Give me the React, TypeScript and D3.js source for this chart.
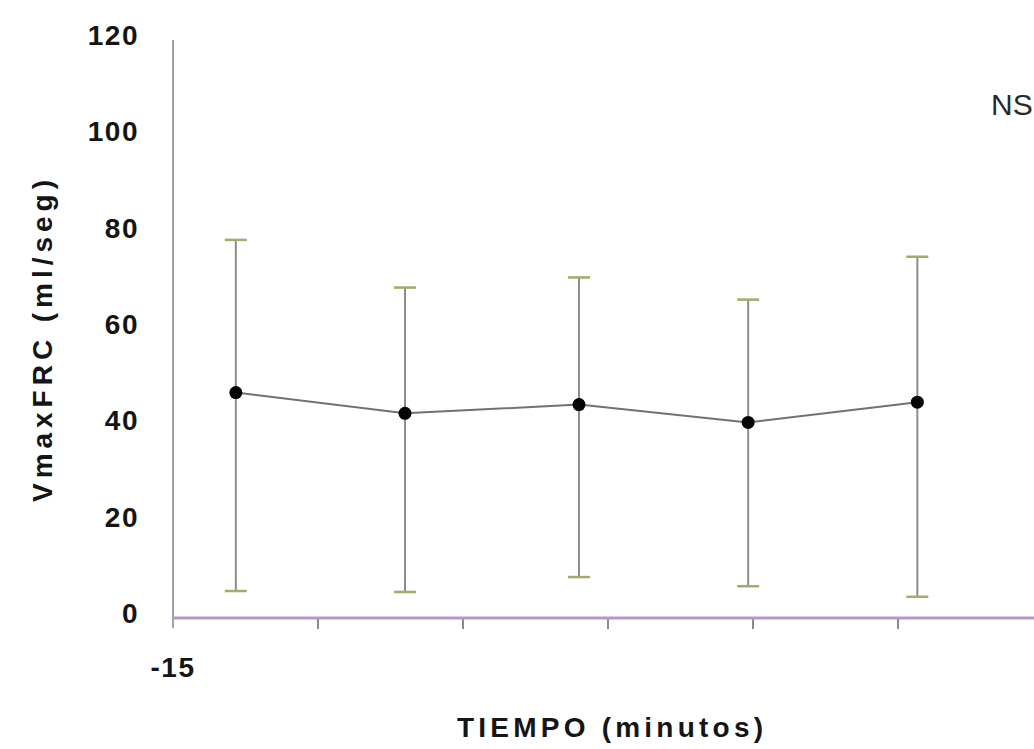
import * as d3 from 'd3';
import React, { useRef, useEffect } from 'react';

// --------------------------------------------------------
// data
// --------------------------------------------------------
const times = [-8.5, 9, 27, 44.5, 62];          // minutes
const means = [46.8, 42.5, 44.3, 40.6, 44.8];    // VmaxFRC (ml/seg)
const upper = [78.5, 68.6, 70.7, 66.1, 75.0];
const lower = [5.6, 5.4, 8.5, 6.6, 4.4];

const yTicks = [0, 20, 40, 60, 80, 100, 120];
const xTicks = [-15, 0, 15, 30, 45, 60];
const xTickLabels = ['-15'];

const W = 1034;
const H = 749;
const FONT = 'Arial, "Liberation Sans", sans-serif';

function App() {
  const svgRef = useRef<SVGSVGElement>(null);

  useEffect(() => {
    const svg = d3.select(svgRef.current);
    svg.selectAll('*').remove();

    // scales
    const x = d3.scaleLinear([-15, 75], [173, 1043]);
    const y = d3.scaleLinear([0, 120], [618, 40]);

    // y axis line
    svg.append('line')
      .attr('x1', x(-15)).attr('x2', x(-15))
      .attr('y1', y(120)).attr('y2', y(0) + 10)
      .attr('stroke', '#a0a0a8').attr('stroke-width', 2);

    // y tick labels
    svg.append('g')
      .selectAll('text')
      .data(yTicks)
      .join('text')
      .attr('x', 139)
      .attr('y', d => y(d) - 5)
      .attr('dy', '0.36em')
      .attr('text-anchor', 'end')
      .attr('font-family', FONT)
      .attr('font-weight', 'bold')
      .attr('font-size', 28)
      .attr('letter-spacing', 1.5)
      .attr('fill', '#151515')
      .text(d => d);

    // x ticks
    svg.append('g')
      .selectAll('line')
      .data(xTicks.slice(1))
      .join('line')
      .attr('x1', d => x(d)).attr('x2', d => x(d))
      .attr('y1', y(0)).attr('y2', y(0) + 11)
      .attr('stroke', '#8a8a90').attr('stroke-width', 2);

    // x axis line
    svg.append('line')
      .attr('x1', x(-15)).attr('x2', W)
      .attr('y1', y(0)).attr('y2', y(0))
      .attr('stroke', '#b39ac0').attr('stroke-width', 3);

    // x tick label
    svg.append('text')
      .attr('x', x(xTicks[0]))
      .attr('y', y(0) + 49)
      .attr('dy', '0.36em')
      .attr('text-anchor', 'middle')
      .attr('font-family', FONT)
      .attr('font-weight', 'bold')
      .attr('font-size', 28)
      .attr('letter-spacing', 1.5)
      .attr('fill', '#151515')
      .text(xTickLabels[0]);

    // error bars
    const bars = svg.append('g');
    times.forEach((t, i) => {
      bars.append('line')
        .attr('x1', x(t)).attr('x2', x(t))
        .attr('y1', y(upper[i])).attr('y2', y(lower[i]))
        .attr('stroke', '#8c8c94').attr('stroke-width', 2);
      [upper[i], lower[i]].forEach(v => {
        bars.append('line')
          .attr('x1', x(t) - 11).attr('x2', x(t) + 11)
          .attr('y1', y(v)).attr('y2', y(v))
          .attr('stroke', '#a8a86a').attr('stroke-width', 2.5);
      });
    });

    // mean line
    const line = d3.line<number>()
      .x((d, i) => x(times[i]))
      .y(d => y(d));
    svg.append('path')
      .attr('d', line(means))
      .attr('fill', 'none')
      .attr('stroke', '#6a747a')
      .attr('stroke-width', 2);

    // markers
    svg.append('g')
      .selectAll('circle')
      .data(means)
      .join('circle')
      .attr('cx', (d, i) => x(times[i]))
      .attr('cy', d => y(d))
      .attr('r', 6.5)
      .attr('fill', '#050505');

    // axis titles
    svg.append('text')
      .attr('x', 457)
      .attr('y', 737)
      .attr('font-family', FONT)
      .attr('font-weight', 'bold')
      .attr('font-size', 28)
      .attr('textLength', 306)
      .attr('lengthAdjust', 'spacing')
      .attr('fill', '#151515')
      .text('TIEMPO (minutos)');

    svg.append('text')
      .attr('transform', `translate(52,502) rotate(-90)`)
      .attr('font-family', FONT)
      .attr('font-weight', 'bold')
      .attr('font-size', 28)
      .attr('textLength', 322)
      .attr('lengthAdjust', 'spacing')
      .attr('fill', '#151515')
      .text('VmaxFRC (ml/seg)');

    // significance note
    svg.append('text')
      .attr('x', 991)
      .attr('y', 115)
      .attr('font-family', FONT)
      .attr('font-size', 30)
      .attr('fill', '#2a2a2a')
      .text('NS');
  });

  return (
    <svg ref={svgRef} width={W} height={H}
      style={{ position: 'absolute', left: 0, top: 0, background: '#fff' }} />
  );
}

export default App;
